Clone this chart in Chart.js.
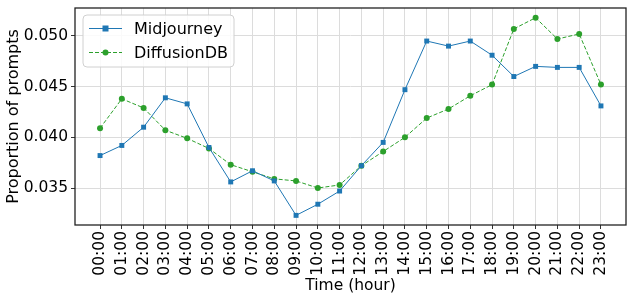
<!DOCTYPE html>
<html>
<head>
<meta charset="utf-8">
<script src="https://cdn.jsdelivr.net/npm/chart.js@4"></script>
<style>
  html, body { margin: 0; padding: 0; background: #fff; }
  #wrap { width: 630px; height: 297px; }
</style>
</head>
<body>
<div id="wrap"><canvas id="myChart" width="630" height="297"></canvas></div>
<script>
// hour labels on the x axis
let hours = ["00:00","01:00","02:00","03:00","04:00","05:00","06:00","07:00","08:00","09:00","10:00","11:00",
             "12:00","13:00","14:00","15:00","16:00","17:00","18:00","19:00","20:00","21:00","22:00","23:00"]

let midjourney = [0.0382, 0.0392, 0.0410, 0.0439, 0.0433, 0.0390, 0.0356, 0.0367, 0.0357, 0.0323, 0.0334, 0.0347,
                  0.0372, 0.0395, 0.0447, 0.0495, 0.0490, 0.0495, 0.0481, 0.0460, 0.0470, 0.0469, 0.0469, 0.0431]

let diffusiondb = [0.0409, 0.0438, 0.0429, 0.0407, 0.0399, 0.0389, 0.0373, 0.0366, 0.0359, 0.0357, 0.0350, 0.0353,
                   0.0372, 0.0386, 0.0400, 0.0419, 0.0428, 0.0441, 0.0452, 0.0507, 0.0518, 0.0497, 0.0502, 0.0452]

let yTicks = [0.035, 0.040, 0.045, 0.050]

const font = "DejaVu Sans"
const blue = "#1f77b4"
const green = "#2ca02c"

// frame + legend drawn on top of the plot, matplotlib style
const framePlugin = {
  id: "frame",
  afterDraw(chart) {
    const { ctx, chartArea: a } = chart
    ctx.save()
    ctx.strokeStyle = "#222"
    ctx.lineWidth = 1.3
    ctx.strokeRect(a.left, a.top, a.right - a.left, a.bottom - a.top)

    // legend box
    const x = a.left + 8, y = a.top + 7, w = 151, h = 52, r = 4
    ctx.beginPath()
    ctx.moveTo(x + r, y)
    ctx.arcTo(x + w, y, x + w, y + h, r)
    ctx.arcTo(x + w, y + h, x, y + h, r)
    ctx.arcTo(x, y + h, x, y, r)
    ctx.arcTo(x, y, x + w, y, r)
    ctx.closePath()
    ctx.fillStyle = "rgba(255,255,255,0.85)"
    ctx.fill()
    ctx.strokeStyle = "#d0d0d0"
    ctx.lineWidth = 1
    ctx.stroke()

    let items = [
      { label: "Midjourney", color: blue, dash: [], shape: "rect" },
      { label: "DiffusionDB", color: green, dash: [4, 2], shape: "circle" }
    ]
    items.forEach((it, i) => {
      let ly = y + 13.5 + i * 24
      ctx.strokeStyle = it.color
      ctx.lineWidth = 1
      ctx.setLineDash(it.dash)
      ctx.beginPath()
      ctx.moveTo(x + 6, ly)
      ctx.lineTo(x + 39, ly)
      ctx.stroke()
      ctx.setLineDash([])
      ctx.fillStyle = it.color
      if (it.shape === "rect") {
        ctx.fillRect(x + 22.5 - 3, ly - 3, 6, 6)
      } else {
        ctx.beginPath()
        ctx.arc(x + 22.5, ly, 3, 0, Math.PI * 2)
        ctx.fill()
      }
      ctx.fillStyle = "#000"
      ctx.font = "16px '" + font + "'"
      ctx.textBaseline = "middle"
      ctx.fillText(it.label, x + 51, ly + 1)
    })
    ctx.restore()
  }
}

let ctx = document.getElementById("myChart").getContext("2d")

let myChart = new Chart(ctx, {
  type: "line",
  data: {
    datasets: [{
      label: "Midjourney",
      data: midjourney.map((v, i) => ({ x: i, y: v })),
      borderColor: blue,
      backgroundColor: blue,
      borderWidth: 1,
      pointStyle: "rect",
      pointRadius: 3.5,
      pointBorderWidth: 0,
      tension: 0
    }, {
      label: "DiffusionDB",
      data: diffusiondb.map((v, i) => ({ x: i, y: v })),
      borderColor: green,
      backgroundColor: green,
      borderWidth: 1,
      borderDash: [4, 2],
      pointStyle: "circle",
      pointRadius: 3,
      pointBorderWidth: 0,
      tension: 0
    }]
  },
  options: {
    responsive: false,
    animation: false,
    layout: { padding: { top: 8, right: 2, left: 0, bottom: 0 } },
    plugins: { legend: { display: false }, tooltip: { enabled: false } },
    scales: {
      x: {
        type: "linear",
        min: -1.15,
        max: 24.15,
        afterBuildTicks: scale => { scale.ticks = hours.map((h, i) => ({ value: i })) },
        afterFit: scale => { scale.height = 72; scale.paddingLeft = 0; scale.paddingRight = 0 },
        border: { display: false },
        grid: { color: "#dcdcdc", lineWidth: 1, tickColor: "#333", tickLength: 4 },
        ticks: {
          autoSkip: false,
          minRotation: 90,
          maxRotation: 90,
          padding: 2,
          color: "#000",
          font: { family: font, size: 15.5 },
          callback: v => hours[v]
        },
        title: {
          display: true,
          text: "Time (hour)",
          color: "#000",
          font: { family: font, size: 15.5 },
          padding: { top: 0, bottom: 2 }
        }
      },
      y: {
        min: 0.03135,
        max: 0.05276,
        afterBuildTicks: scale => { scale.ticks = yTicks.map(v => ({ value: v })) },
        afterFit: scale => { scale.width = 75; scale.paddingTop = 0; scale.paddingBottom = 0 },
        border: { display: false },
        grid: { color: "#dcdcdc", lineWidth: 1, tickColor: "#333", tickLength: 4 },
        ticks: {
          padding: 3,
          color: "#000",
          font: { family: font, size: 15.5 },
          callback: v => v.toFixed(3)
        },
        title: {
          display: true,
          text: "Proportion of prompts",
          color: "#000",
          font: { family: font, size: 16 },
          padding: { top: 4, bottom: 2 }
        }
      }
    }
  },
  plugins: [framePlugin]
})
</script>
</body>
</html>
